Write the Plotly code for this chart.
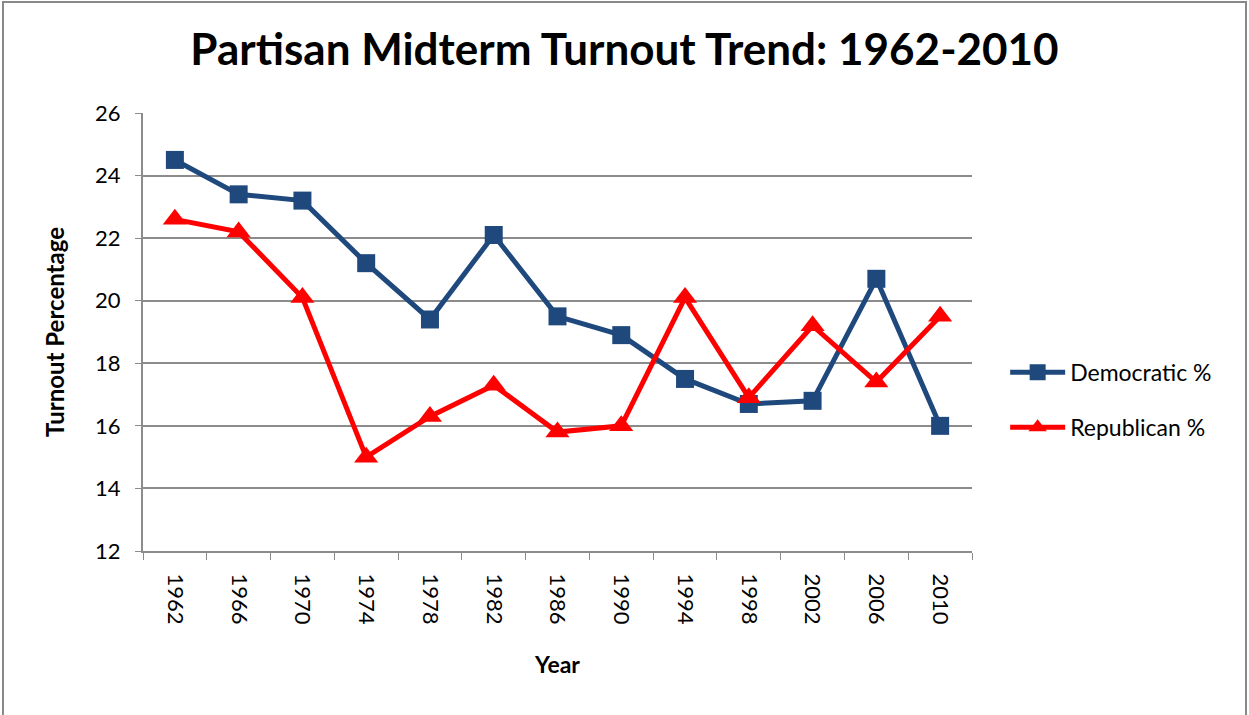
import plotly.graph_objects as go

years = ['1962', '1966', '1970', '1974', '1978', '1982', '1986',
         '1990', '1994', '1998', '2002', '2006', '2010']
democratic = [24.5, 23.4, 23.2, 21.2, 19.4, 22.1, 19.5, 18.9, 17.5, 16.7, 16.8, 20.7, 16.0]
republican = [22.6, 22.2, 20.1, 15.0, 16.3, 17.3, 15.8, 16.0, 20.1, 16.9, 19.2, 17.4, 19.5]

FONT = 'Lato'
GRID = '#8c8c8c'

fig = go.Figure()

fig.add_trace(go.Scatter(
    x=years, y=democratic, mode='lines+markers', name='Democratic %',
    legendgroup='dem',
    line=dict(color='#1f497d', width=5),
    marker=dict(symbol='square', size=18, color='#1f497d')
))
fig.add_trace(go.Scatter(
    x=years, y=republican, mode='lines+markers', name='Republican %',
    legendgroup='rep',
    line=dict(color='#ff0000', width=5),
    marker=dict(symbol='triangle-up', size=21, color='#ff0000')
))

# outer chart border (pixel -> paper coordinates)
def px_x(p):
    return (p - 143) / 829

def px_y(p):
    return (551 - p) / 438

fig.add_shape(type='rect', xref='paper', yref='paper',
              x0=px_x(3), x1=px_x(1246), y0=px_y(730), y1=px_y(2),
              line=dict(color='#898989', width=2), layer='below')

fig.update_layout(
    width=1249, height=715,
    margin=dict(l=143, r=277, t=113, b=164),
    paper_bgcolor='white', plot_bgcolor='white',
    font=dict(family=FONT, color='black', size=20),
    title=dict(text='<b>Partisan Midterm Turnout Trend: 1962-2010</b>',
               x=0.5, xanchor='center', y=0.93, yanchor='middle',
               font=dict(size=44, family=FONT)),
    legend=dict(x=1.04, y=0.345, xanchor='left', yanchor='middle',
                font=dict(size=23), tracegroupgap=22, traceorder='grouped',
                itemwidth=55),
    showlegend=True,
)

fig.update_xaxes(
    type='category', range=[-0.5, 12.5], tickson='boundaries',
    ticks='outside', ticklen=7, ticklabelstandoff=16,
    tickcolor=GRID, tickangle=90, showline=True, linecolor=GRID, linewidth=2,
    showgrid=False, tickfont=dict(size=22),
    title=dict(text='<b>Year</b>', font=dict(size=23), standoff=33)
)
fig.update_yaxes(
    range=[12, 26], dtick=2, ticks='outside', ticklen=6, tickcolor=GRID,
    ticklabelstandoff=10,
    showline=True, linecolor=GRID, linewidth=2,
    showgrid=True, gridcolor=GRID, gridwidth=2, zeroline=False,
    tickfont=dict(size=22),
    title=dict(text='<b>Turnout Percentage</b>', font=dict(size=24), standoff=24)
)

fig.write_html('out.html', config={'displayModeBar': False},
               post_script="document.body.style.margin='0';")
